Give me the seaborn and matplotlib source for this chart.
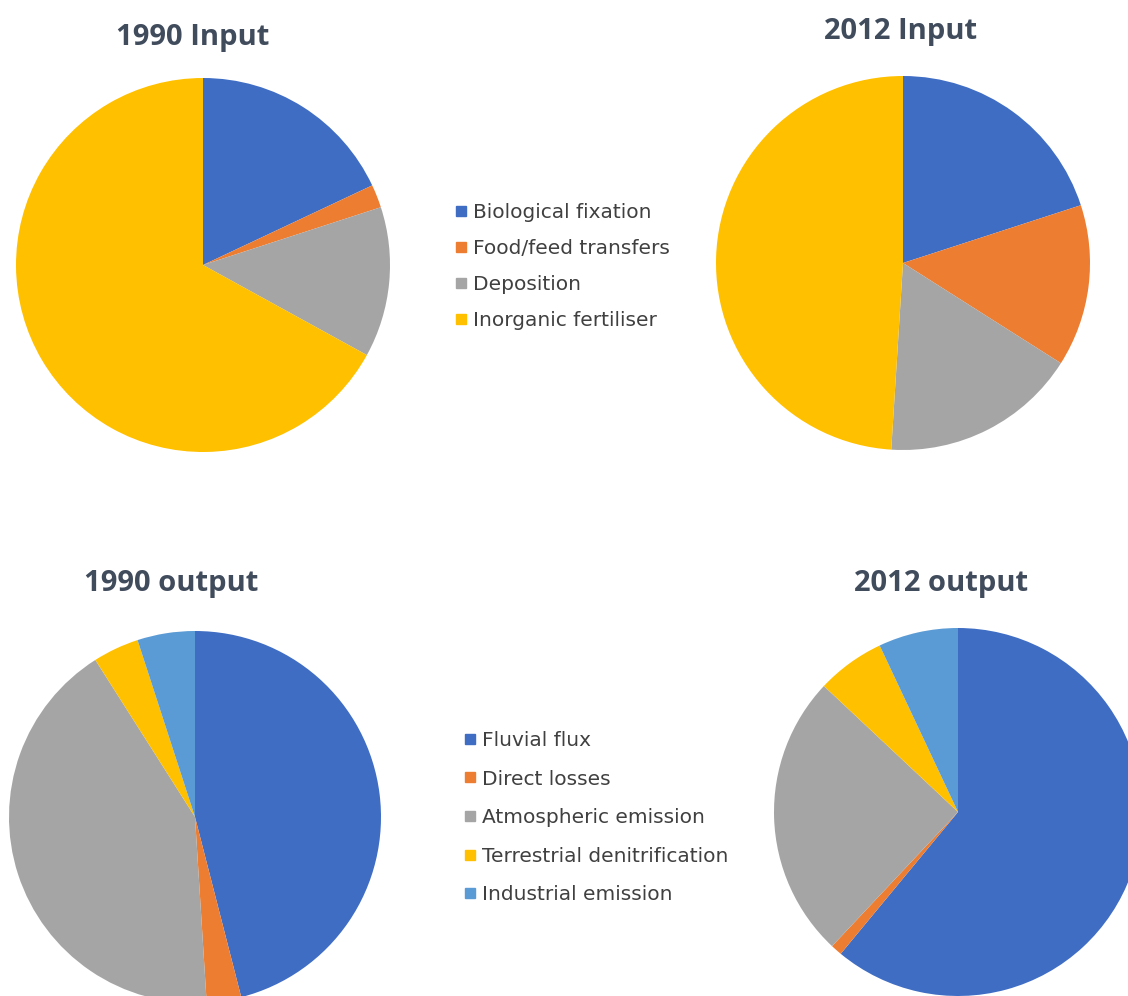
import matplotlib
matplotlib.use("Agg")
import matplotlib.pyplot as plt
from matplotlib.lines import Line2D
import seaborn as sns

# shares (%), clockwise from 12 o'clock
input_labels = ["Biological fixation", "Food/feed transfers", "Deposition", "Inorganic fertiliser"]
input_1990 = [18, 2, 13, 67]
input_2012 = [20, 14, 17, 49]

output_labels = ["Fluvial flux", "Direct losses", "Atmospheric emission",
                 "Terrestrial denitrification", "Industrial emission"]
output_1990 = [46, 3, 42, 4, 5]
output_2012 = [61, 1, 25, 6, 7]

titles = ["1990 Input", "2012 Input", "1990 output", "2012 output"]

sns.set_style("white")
plt.rcParams['font.family'] = ['DejaVu Sans']

office = sns.color_palette(["#3F6DC4", "#ED7D31", "#A5A5A5", "#FFC000", "#5B9BD5"])
title_col = "#404B5C"
text_col = "#404040"

W, H = 1128, 996
fig = plt.figure(figsize=(W / 100, H / 100), dpi=100)
fig.patch.set_facecolor("white")


def px_axes(left, top, size):
    return fig.add_axes([left / W, (H - top - size) / H, size / W, size / H])


def draw_pie(ax, vals, cols):
    ax.pie(vals, colors=cols, startangle=90, counterclock=False, radius=1,
           wedgeprops=dict(linewidth=0))
    ax.set_xlim(-1, 1)
    ax.set_ylim(-1, 1)
    ax.set_aspect("equal")
    ax.axis("off")


ax1 = px_axes(16, 78, 374)
ax2 = px_axes(716, 76, 374)
ax3 = px_axes(9, 631, 372)
ax4 = px_axes(774, 628, 368)

draw_pie(ax1, input_1990, office[:4])
draw_pie(ax2, input_2012, office[:4])
draw_pie(ax3, output_1990, office[:5])
draw_pie(ax4, output_2012, office[:5])

title_pos = [(193, 37), (901, 31), (171, 583), (941, 583)]
for t, (x, y) in zip(titles, title_pos):
    fig.text(x / W, 1 - y / H, t, ha="center", va="center", fontsize=21,
             fontweight="bold", color=title_col, family=["Open Sans", "DejaVu Sans"])


def handles(cols):
    return [Line2D([], [], marker="s", ls="", color=c, markersize=6.5) for c in cols]


leg1 = fig.legend(handles(office[:4]), input_labels, loc="upper left",
                  bbox_to_anchor=(456 / W, 1 - 203 / H), frameon=False,
                  fontsize=14.5, labelspacing=0.85, handlelength=0.5,
                  handletextpad=0.35, borderpad=0, borderaxespad=0, labelcolor=text_col)
leg2 = fig.legend(handles(office[:5]), output_labels, loc="upper left",
                  bbox_to_anchor=(465 / W, 1 - 731 / H), frameon=False,
                  fontsize=14.5, labelspacing=0.97, handlelength=0.5,
                  handletextpad=0.35, borderpad=0, borderaxespad=0, labelcolor=text_col)

fig.savefig("out.png", dpi=100, facecolor="white")
